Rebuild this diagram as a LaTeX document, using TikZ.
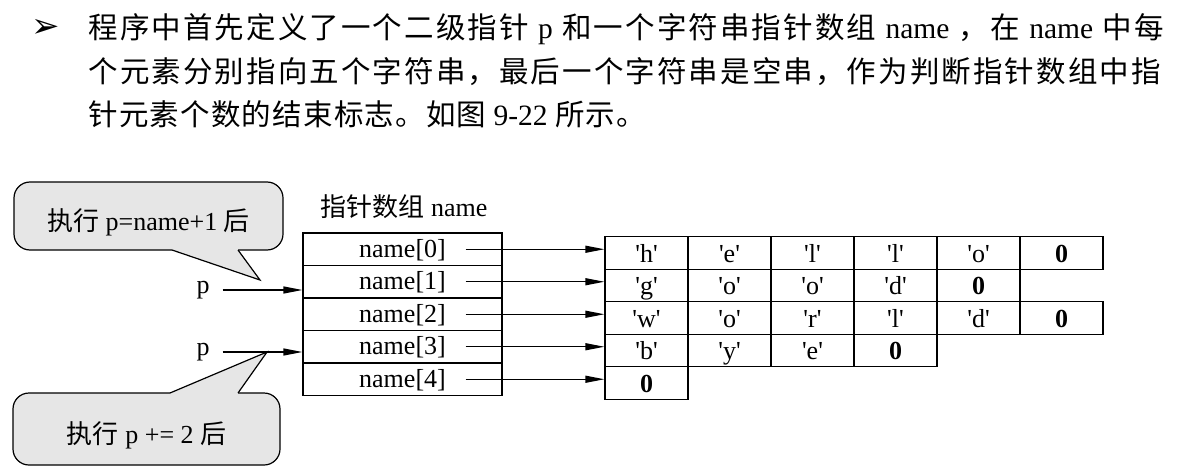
\documentclass[tikz,border=0pt]{standalone}
\usepackage{fontspec}
\setmainfont{Liberation Serif}
\newfontfamily\cjk{Noto Sans CJK SC}
\newfontfamily\cjkwide{Noto Sans CJK SC}[LetterSpace=7.1]
\newfontfamily\cjkmid{Noto Sans CJK SC}[LetterSpace=4]
\newfontfamily\dingfont{DejaVu Sans}
\usetikzlibrary{arrows.meta,positioning}
\usepackage{xcolor}

\definecolor{bubblegray}{RGB}{230,230,230}
\newcommand{\ch}[1]{\textquotesingle#1\textquotesingle}
\newcommand{\zero}{\textbf{0}}

\tikzset{
  txt/.style={font=\fontsize{26}{30}\selectfont, inner sep=0pt},
  toptext/.style={anchor=base west, inner sep=0pt, font=\fontsize{29.5}{35}\selectfont},
  namebox/.style={txt, draw, minimum width=199pt, minimum height=32.5pt, text height=20pt, text depth=4pt},
  strcell/.style={txt, draw, minimum width=83pt, minimum height=32.5pt, text height=22pt, text depth=4pt},
  plabel/.style={txt, minimum width=38pt},
  bubble/.style={txt, draw, fill=bubblegray, rounded corners=16pt, text height=34pt, text depth=6pt},
  ptr/.style={-{Triangle[length=19pt,width=7pt]}},
}

\begin{document}
\begin{tikzpicture}[x=1pt, y=-1pt, line width=1.2pt]
  \useasboundingbox (0,0) rectangle (1182,476);

  % paragraph above the figure
  \node[inner sep=0pt] (bullet) at (46,28) {\dingfont\fontsize{34}{34}\selectfont ➢};
  \node[toptext] (line1) at (88,39) {\makebox[1075pt][s]{{\cjkwide 程序中首先定义了一个二级指针} p {\cjkwide 和一个字符串指针数组} name {\cjkwide ，在} name {\cjkwide 中每}}};
  \node[toptext] (line2) at (88,83) {\cjkwide 个元素分别指向五个字符串，最后一个字符串是空串，作为判断指针数组中指};
  \node[toptext] (line3) at (88,125) {{\cjkmid 针元素个数的结束标志。如图} 9-22 {\cjkmid 所示。}};

  % pointer array
  \node[txt, anchor=west] (title) at (320,207) {{\cjk 指针数组} name};
  \foreach \i in {0,...,4}
    \node[namebox] (name\i) at (402.5, 249.25+32.5*\i) {name[\i]};

  % the strings
  \foreach \row [count=\i from 0] in {{\ch{h},\ch{e},\ch{l},\ch{l},\ch{o},\zero},
                                      {\ch{g},\ch{o},\ch{o},\ch{d},\zero},
                                      {\ch{w},\ch{o},\ch{r},\ch{l},\ch{d},\zero},
                                      {\ch{b},\ch{y},\ch{e},\zero},
                                      {\zero}}
    \foreach \c [count=\j from 0] in \row
      \node[strcell] (s\i\j) at (646.5+83*\j, 253+32.5*\i) {\c};

  \foreach \i in {0,...,4}
    \draw[ptr] ([xshift=-37pt]name\i.east) -- (name\i.east -| s\i0.west);

  % p before and after
  \node[plabel] (p1) at (203,290) {p};
  \node[plabel] (p2) at (203,352) {p};
  \draw[ptr] (p1.east) -- (p1.east -| name1.west);
  \draw[ptr] (p2.east) -- (p2.east -| name3.west);

  % callouts
  \node[bubble, minimum width=269pt, minimum height=68pt] (call1) at (148.5,216) {{\cjk 执行} p=name+1 {\cjk 后}};
  \coordinate (tip1) at (260,280);
  \fill[bubblegray] (172,246) -- (172,250) -- (tip1) -- (238,250) -- (238,246) -- cycle;
  \draw (172,250) -- (tip1) -- (238,250);

  \node[bubble, minimum width=267pt, minimum height=72pt] (call2) at (146.5,429) {{\cjk 执行} p += 2 {\cjk 后}};
  \coordinate (tip2) at (267,352);
  \fill[bubblegray] (170,397) -- (170,393) -- (tip2) -- (238,393) -- (238,397) -- cycle;
  \draw (170,393) -- (tip2) -- (238,393);
\end{tikzpicture}
\end{document}
